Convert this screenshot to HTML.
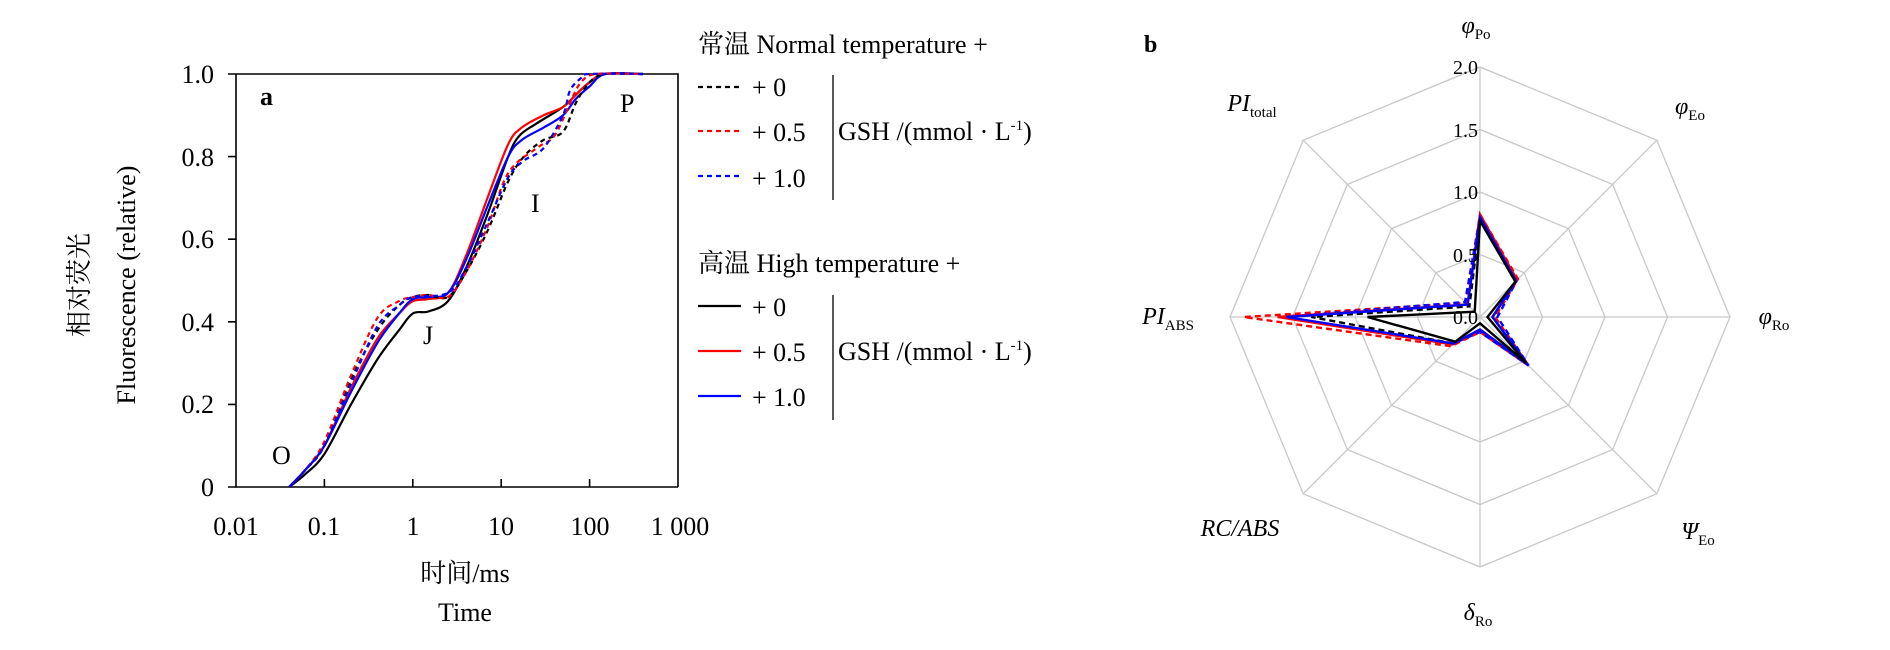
<!DOCTYPE html>
<html><head><meta charset="utf-8"><style>
html,body{margin:0;padding:0;background:#fff;}
svg{display:block;}
text{font-family:"Liberation Serif","Noto Serif CJK SC","Noto Sans CJK SC",serif;fill:#000;}
</style></head><body>
<svg id="s" width="1890" height="650" viewBox="0 0 1890 650" xmlns="http://www.w3.org/2000/svg">
<rect width="1890" height="650" fill="#fff"/>
<g stroke="#000" stroke-width="1.6" fill="none">
<path d="M236 74 H678 V487 M236 74 V487 H678"/>
<path d="M228 74H236 M228 156.6H236 M228 239.2H236 M228 321.8H236 M228 404.4H236 M228 487H236"/>
<path d="M324.4 487V479 M412.8 487V479 M501.2 487V479 M589.6 487V479"/>
</g>
<g font-size="26" text-anchor="end">
<text x="214" y="83">1.0</text><text x="214" y="166">0.8</text><text x="214" y="248">0.6</text>
<text x="214" y="331">0.4</text><text x="214" y="413">0.2</text><text x="214" y="496">0</text>
</g>
<g font-size="26" text-anchor="middle">
<text x="236" y="535">0.01</text><text x="324" y="535">0.1</text><text x="413" y="535">1</text>
<text x="501" y="535">10</text><text x="590" y="535">100</text><text x="680" y="535">1 000</text>
<text x="465" y="582">时间/ms</text><text x="465" y="621">Time</text>
</g>
<text transform="translate(88,285) rotate(-90)" font-size="26" text-anchor="middle">相对荧光</text>
<text transform="translate(135,285) rotate(-90)" font-size="26" text-anchor="middle">Fluorescence (relative)</text>
<text x="260" y="105" font-size="26" font-weight="bold">a</text>
<text x="272" y="464" font-size="26">O</text>
<text x="423" y="344" font-size="26">J</text>
<text x="531" y="212" font-size="26">I</text>
<text x="620" y="112" font-size="26">P</text>
<g id="curves" fill="none" stroke-width="2.2" stroke-linejoin="round"></g>
<g font-size="26">
<text x="698" y="53">常温 Normal temperature +</text>
<text x="752" y="96">+ 0</text><text x="752" y="141">+ 0.5</text><text x="752" y="187">+ 1.0</text>
<text x="838" y="140">GSH /(mmol · L<tspan font-size="15" dy="-10">-1</tspan><tspan dy="10">)</tspan></text>
<text x="698" y="272">高温 High temperature +</text>
<text x="752" y="316">+ 0</text><text x="752" y="361">+ 0.5</text><text x="752" y="406">+ 1.0</text>
<text x="838" y="360">GSH /(mmol · L<tspan font-size="15" dy="-10">-1</tspan><tspan dy="10">)</tspan></text>
</g>
<g stroke-width="2.2">
<path d="M698 87H741" stroke="#000" stroke-dasharray="5 4"/>
<path d="M698 131H741" stroke="#f00" stroke-dasharray="5 4"/>
<path d="M698 176H741" stroke="#00f" stroke-dasharray="5 4"/>
<path d="M698 306H741" stroke="#000"/>
<path d="M698 351H741" stroke="#f00"/>
<path d="M698 396H741" stroke="#00f"/>
</g>
<g stroke="#000" stroke-width="1.3"><path d="M833 75V200 M833 295V420"/></g>
<text x="1144" y="52" font-size="24" font-weight="bold">b</text>
<g id="radar" fill="none"></g>
<g font-size="20" text-anchor="end">
<text x="1478" y="74">2.0</text><text x="1478" y="137">1.5</text><text x="1478" y="199">1.0</text>
<text x="1478" y="262">0.5</text><text x="1478" y="324">0.0</text>
</g>
<g font-size="24" font-style="italic" text-anchor="middle">
<text x="1476" y="33">φ<tspan font-size="15" font-style="normal" dy="6">Po</tspan></text>
<text x="1690" y="114">φ<tspan font-size="15" font-style="normal" dy="6">Eo</tspan></text>
<text x="1774" y="324">φ<tspan font-size="15" font-style="normal" dy="6">Ro</tspan></text>
<text x="1698" y="539">Ψ<tspan font-size="15" font-style="normal" dy="6">Eo</tspan></text>
<text x="1478" y="620">δ<tspan font-size="15" font-style="normal" dy="6">Ro</tspan></text>
<text x="1240" y="536">RC/ABS</text>
<text x="1168" y="324">PI<tspan font-size="15" font-style="normal" dy="6">ABS</tspan></text>
<text x="1252" y="111">PI<tspan font-size="15" font-style="normal" dy="6">total</tspan></text>
</g>
</svg>
<script>
var NS="http://www.w3.org/2000/svg";
function px(t){return 236+(Math.log10(t)+2)*88.4;}
function py(f){return 487-f*413;}
function path(pts){
  var P=pts.map(function(p){return [px(p[0]),py(p[1])];});
  var d="M"+P[0][0].toFixed(1)+" "+P[0][1].toFixed(1);
  for(var i=0;i<P.length-1;i++){
    var p0=P[i>0?i-1:i],p1=P[i],p2=P[i+1],p3=P[i+2<P.length?i+2:i+1];
    var c1=[p1[0]+(p2[0]-p0[0])/6,p1[1]+(p2[1]-p0[1])/6];
    var c2=[p2[0]-(p3[0]-p1[0])/6,p2[1]-(p3[1]-p1[1])/6];
    d+="C"+c1[0].toFixed(1)+" "+c1[1].toFixed(1)+" "+c2[0].toFixed(1)+" "+c2[1].toFixed(1)+" "+p2[0].toFixed(1)+" "+p2[1].toFixed(1);
  }
  return d;}
var C=document.getElementById("curves");
var series=[
["#000",1,[[0.04,0],[0.06,0.03],[0.1,0.08],[0.2,0.2],[0.4,0.31],[0.7,0.38],[1,0.42],[1.5,0.425],[2.5,0.45],[4,0.53],[7,0.66],[12,0.8],[16,0.85],[25,0.88],[50,0.92],[70,0.95],[100,0.98],[150,1],[400,1]]],
["#f00",1,[[0.04,0],[0.06,0.04],[0.1,0.1],[0.2,0.24],[0.4,0.36],[0.7,0.42],[1,0.45],[1.5,0.455],[2.5,0.47],[4,0.56],[7,0.7],[12,0.83],[17,0.87],[30,0.9],[50,0.92],[70,0.95],[100,0.98],[150,1],[400,1]]],
["#00f",1,[[0.04,0],[0.06,0.04],[0.1,0.1],[0.2,0.23],[0.4,0.35],[0.7,0.42],[1,0.455],[1.5,0.46],[2.5,0.47],[4,0.55],[7,0.68],[12,0.8],[17,0.84],[30,0.87],[50,0.9],[70,0.94],[100,0.97],[150,1],[400,1]]],
["#000",0,[[0.04,0],[0.06,0.04],[0.1,0.1],[0.2,0.26],[0.4,0.38],[0.7,0.44],[1,0.46],[1.5,0.465],[2.5,0.46],[4,0.52],[7,0.62],[12,0.74],[18,0.8],[30,0.84],[50,0.86],[70,0.93],[100,0.98],[150,1],[400,1]]],
["#f00",0,[[0.04,0],[0.06,0.04],[0.1,0.11],[0.2,0.27],[0.4,0.41],[0.7,0.45],[1,0.46],[1.5,0.465],[2.5,0.46],[4,0.52],[7,0.63],[12,0.76],[25,0.82],[40,0.85],[60,0.93],[80,0.98],[120,1],[400,1]]],
["#00f",0,[[0.04,0],[0.06,0.04],[0.1,0.1],[0.2,0.25],[0.4,0.39],[0.7,0.44],[1,0.46],[2.5,0.47],[4,0.53],[7,0.64],[12,0.75],[18,0.79],[30,0.82],[50,0.9],[60,0.96],[80,0.99],[100,1],[400,1]]]
];
series.forEach(function(s){var p=document.createElementNS(NS,"path");p.setAttribute("d",path(s[2]));p.setAttribute("stroke",s[0]);if(!s[1])p.setAttribute("stroke-dasharray","5 4");C.appendChild(p);});
var R=document.getElementById("radar"),cx=1480,cy=317,u=125;
function pt(i,v){var a=-Math.PI/2+i*Math.PI/4;return [cx+Math.cos(a)*v*u,cy+Math.sin(a)*v*u];}
function poly(vals,stroke,sw,dash){var d="";for(var i=0;i<8;i++){var p=pt(i,vals[i]);d+=(i?"L":"M")+p[0].toFixed(1)+" "+p[1].toFixed(1);}d+="Z";var e=document.createElementNS(NS,"path");e.setAttribute("d",d);e.setAttribute("stroke",stroke);e.setAttribute("stroke-width",sw);if(dash)e.setAttribute("stroke-dasharray",dash);R.appendChild(e);}
[0.5,1,1.5,2].forEach(function(r){poly([r,r,r,r,r,r,r,r],"#c8c8c8",1.3);});
for(var i=0;i<8;i++){var p=pt(i,2);var l=document.createElementNS(NS,"path");l.setAttribute("d","M"+cx+" "+cy+"L"+p[0]+" "+p[1]);l.setAttribute("stroke","#c8c8c8");l.setAttribute("stroke-width","1.3");R.appendChild(l);}
poly([0.82,0.43,0.12,0.55,0.12,0.33,1.89,0.16],"#f00",2.4,"6 4");
poly([0.8,0.42,0.14,0.55,0.12,0.3,1.6,0.17],"#00f",2.4,"6 4");
poly([0.78,0.4,0.1,0.53,0.1,0.3,1.35,0.12],"#000",2.4,"6 4");
poly([0.82,0.42,0.1,0.54,0.1,0.31,1.62,0.14],"#f00",2.4);
poly([0.8,0.41,0.1,0.54,0.1,0.3,1.55,0.14],"#00f",2.4);
poly([0.77,0.4,0.06,0.52,0.05,0.28,0.9,0.06],"#000",2.4);
</script>
</body></html>
